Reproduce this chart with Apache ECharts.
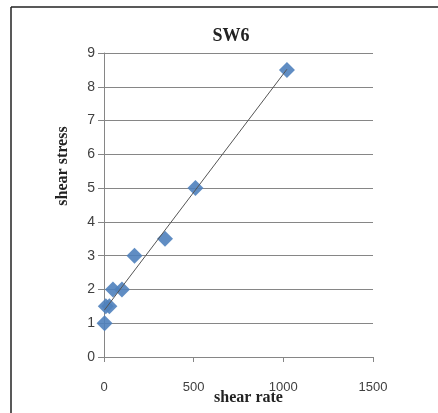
<!DOCTYPE html>
<html><head><meta charset="utf-8">
<script src="https://cdn.jsdelivr.net/npm/echarts@6/dist/echarts.min.js"></script>
<style>html,body{margin:0;padding:0;background:#fff;overflow:hidden}#c{width:438px;height:413px}</style>
</head><body><div id="c"></div>
<script>
var shearRate = [3, 10, 30, 50, 100, 170, 340, 510, 1020];
var shearStress = [1, 1.5, 1.5, 2, 2, 3, 3.5, 5, 8.5];
var yTicks = [0,1,2,3,4,5,6,7,8,9];
var xTicks = [0,500,1000,1500];

var n = shearRate.length, sx=0, sy=0, sxy=0, sxx=0;
for (var i=0;i<n;i++){sx+=shearRate[i];sy+=shearStress[i];sxy+=shearRate[i]*shearStress[i];sxx+=shearRate[i]*shearRate[i];}
var slope=(n*sxy-sx*sy)/(n*sxx-sx*sx), icpt=(sy-slope*sx)/n;
var xmin=Math.min.apply(null,shearRate), xmax=Math.max.apply(null,shearRate);
var trend=[[xmin,icpt+slope*xmin],[xmax,icpt+slope*xmax]];

var chart = echarts.init(document.getElementById('c'));
chart.setOption({
  animation:false,
  backgroundColor:'#fff',
  title:{text:'SW6',left:226,top:22,textAlign:'center',textStyle:{fontFamily:'Liberation Serif',fontWeight:'bold',fontSize:18,color:'#222'}},
  graphic:[
    {type:'line',shape:{x1:11,y1:7,x2:438,y2:7},style:{stroke:'#222',lineWidth:1.5}},
    {type:'line',shape:{x1:11,y1:7,x2:11,y2:413},style:{stroke:'#222',lineWidth:1.5}}
  ],
  grid:{left:104,right:65,top:53,bottom:56,outerBoundsMode:'none',containLabel:false},
  xAxis:{type:'value',min:xTicks[0],max:xTicks[xTicks.length-1],interval:500,
    name:'shear rate',nameLocation:'middle',nameGap:33,nameMoveOverlap:false,
    nameTextStyle:{fontFamily:'Liberation Serif',fontWeight:'bold',fontSize:16,color:'#222',padding:[0,0,0,20]},
    axisLine:{lineStyle:{color:'#868686'}},axisTick:{show:true,length:5,lineStyle:{color:'#868686'}},
    axisLabel:{margin:24,fontFamily:'Liberation Sans',fontSize:13,color:'#404040',formatter:function(v){return String(v);}},
    splitLine:{show:false}},
  yAxis:{type:'value',min:yTicks[0],max:yTicks[yTicks.length-1],interval:1,
    name:'shear stress',nameLocation:'middle',nameGap:33,nameMoveOverlap:false,
    nameTextStyle:{fontFamily:'Liberation Serif',fontWeight:'bold',fontSize:16,color:'#222',padding:[0,0,0,78]},
    axisLine:{show:true,lineStyle:{color:'#868686'}},axisTick:{show:true,length:6,lineStyle:{color:'#868686'}},
    axisLabel:{margin:9,fontFamily:'Liberation Sans',fontSize:14,color:'#404040'},
    splitLine:{lineStyle:{color:'#868686'}}},
  series:[
    {type:'line',data:trend,symbol:'none',lineStyle:{color:'#555',width:1},z:3},
    {type:'scatter',data:shearRate.map(function(x,i){return [x,shearStress[i]];}),symbol:'diamond',symbolSize:16,
     itemStyle:{color:'#4f81bd',opacity:0.9},z:2}
  ]
});
</script></body></html>
